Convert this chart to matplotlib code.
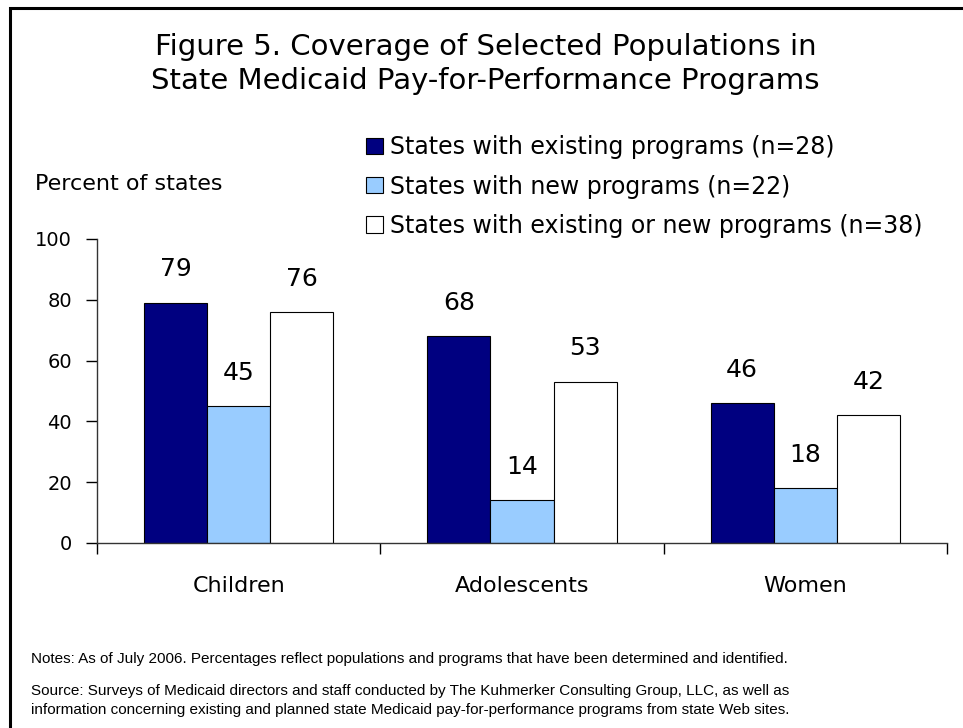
import matplotlib.pyplot as plt
import numpy as np
from matplotlib.patches import Rectangle

categories = ["Children", "Adolescents", "Women"]
existing = [79, 68, 46]
new = [45, 14, 18]
either = [76, 53, 42]
series_names = ["States with existing programs (n=28)",
                "States with new programs (n=22)",
                "States with existing or new programs (n=38)"]
y_ticks = [0, 20, 40, 60, 80, 100]

colors = ["#000080", "#99CCFF", "#FFFFFF"]

fig = plt.figure(figsize=(9.63, 7.28), dpi=100)

# outer frame (only left and top edges fall inside the canvas)
fig.patches.append(Rectangle((10 / 963, -0.1), 1.2, 1 - 8 / 728 + 0.1,
                             transform=fig.transFigure, fill=False,
                             edgecolor="black", linewidth=2.2))

fig.text(0.504, 1 - 64 / 728, "Figure 5. Coverage of Selected Populations in\n"
         "State Medicaid Pay-for-Performance Programs",
         ha="center", va="center", fontsize=21, linespacing=1.26)

ax = fig.add_axes([97 / 963, 1 - 543 / 728, (947 - 97) / 963, (543 - 239) / 728])

x = np.arange(len(categories))
w = 0.223
for i, vals in enumerate([existing, new, either]):
    pos = x + (i - 1) * w
    ax.bar(pos, vals, width=w, color=colors[i], edgecolor="black", linewidth=0.8,
           label=series_names[i], zorder=2)
    for p, v in zip(pos, vals):
        ax.text(p, v + 11, str(v), ha="center", va="center", fontsize=18)

ax.set_xlim(-0.5, 2.5)
ax.set_ylim(0, 100)
ax.set_yticks(y_ticks)
ax.tick_params(axis="y", direction="out", length=8, width=1, labelsize=14, pad=10)
ax.set_xticks([-0.5, 0.5, 1.5, 2.5])
ax.set_xticklabels([])
ax.tick_params(axis="x", direction="out", length=8, width=1)
for c, name in zip(x, categories):
    ax.text(c, -14, name, ha="center", va="center", fontsize=16)

ax.spines["top"].set_visible(False)
ax.spines["right"].set_visible(False)
for s in ("left", "bottom"):
    ax.spines[s].set_color("#333333")
    ax.spines[s].set_linewidth(1)

fig.text(35 / 963, 1 - 184 / 728, "Percent of states", ha="left", va="center",
         fontsize=16)

leg = fig.legend(loc="upper left", bbox_to_anchor=(357 / 963, 1 - 126 / 728),
                 frameon=False, fontsize=17, handlelength=0.68, handleheight=0.68,
                 handletextpad=0.33, labelspacing=0.64, borderaxespad=0)

notes_font = ["Liberation Sans", "DejaVu Sans"]
fig.text(31 / 963, 1 - 659 / 728,
         "Notes: As of July 2006. Percentages reflect populations and programs "
         "that have been determined and identified.",
         ha="left", va="center", fontsize=11, family=notes_font)
fig.text(31 / 963, 1 - 700.5 / 728,
         "Source: Surveys of Medicaid directors and staff conducted by The "
         "Kuhmerker Consulting Group, LLC, as well as\n"
         "information concerning existing and planned state Medicaid "
         "pay-for-performance programs from state Web sites.",
         ha="left", va="center", fontsize=11, family=notes_font, linespacing=1.4)

fig.savefig("out.png", dpi=100)
